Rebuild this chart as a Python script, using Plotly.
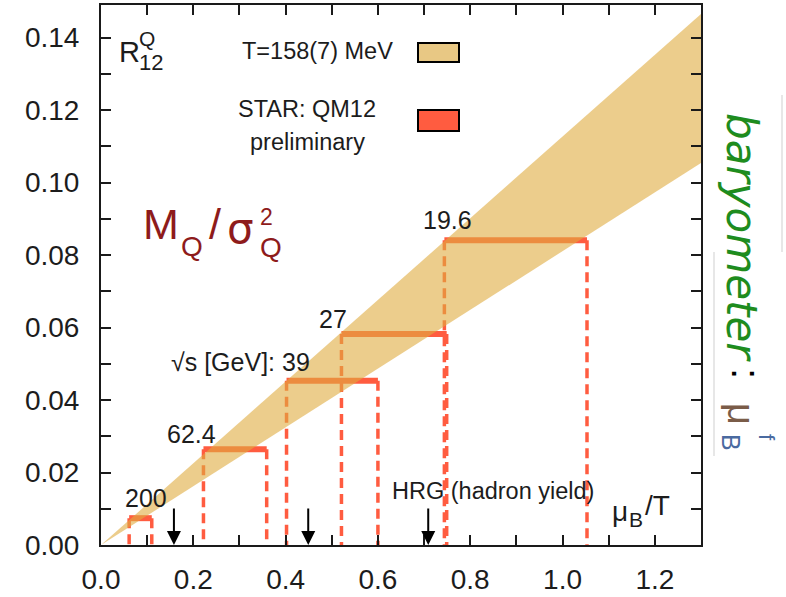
import plotly.graph_objects as go

# ---- figure geometry -------------------------------------------------------
W, H = 786, 597
ML, MR, MT, MB = 101, 85, 5, 52
PW, PH = W - ML - MR, H - MT - MB
X_RANGE = [0.0, 1.3]
Y_RANGE = [0.0, 0.149]

FONT = "Liberation Sans, Arial, Helvetica, sans-serif"
WIDE = "DejaVu Sans, Verdana, sans-serif"
INK = "#1c1c1c"

# ---- data ------------------------------------------------------------------
# HRG band for R12^Q = M_Q/sigma_Q^2 vs mu_B/T, T = 158(7) MeV
band_mu = [0.0, 1.3]
band_upper = [0.0, 0.1465]
band_lower = [0.0, 0.1054]

# STAR QM12 preliminary: measured ratio and the mu_B/T interval it maps onto
energies = ["200", "62.4", "39", "27", "19.6"]
star_r12 = [0.0074, 0.0264, 0.0453, 0.0582, 0.0841]
star_mu_lo = [0.061, 0.222, 0.402, 0.521, 0.744]
star_mu_hi = [0.110, 0.359, 0.600, 0.749, 1.053]

# mu_B/T at chemical freeze-out from hadron-yield fits
hrg_mu = [0.158, 0.449, 0.709]
hrg_arrow_top = 0.0105

# axis ticks
x_tick_vals = [0.0, 0.1, 0.2, 0.3, 0.4, 0.5, 0.6, 0.7, 0.8, 0.9, 1.0, 1.1, 1.2, 1.3]
x_tick_text = ["0.0", "", "0.2", "", "0.4", "", "0.6", "", "0.8", "", "1.0", "", "1.2", ""]
y_tick_vals = [0.00, 0.01, 0.02, 0.03, 0.04, 0.05, 0.06, 0.07, 0.08, 0.09,
               0.10, 0.11, 0.12, 0.13, 0.14]
y_tick_text = ["0.00", "", "0.02", "", "0.04", "", "0.06", "", "0.08", "",
               "0.10", "", "0.12", "", "0.14"]

# ---- styling ---------------------------------------------------------------
STAR_RED = "rgb(255,92,64)"
BAND_FILL = "rgba(223,172,63,0.6)"
# pixel offsets of each energy label from the left end of its bar
label_dx = [17, -12, 25, -8, 3]
label_dy = [20, 15, 19, 15.5, 20.5]
label_anchor = ["center", "center", "right", "center", "center"]
label_prefix = ["", "", "\u221as [GeV]: ", "", ""]


def px(x):
    """page pixel x -> paper x"""
    return (x - ML) / PW


def py(y):
    """page pixel y -> paper y"""
    return (H - MB - y) / PH


fig = go.Figure()

# dashed projections of the STAR bars onto the mu_B/T axis
dash_x, dash_y = [], []
for lo, hi, r in zip(star_mu_lo, star_mu_hi, star_r12):
    for m in (lo, hi):
        dash_x += [m, m, None]
        dash_y += [r, 0.0, None]
fig.add_trace(go.Scatter(x=dash_x, y=dash_y, mode="lines",
                         line=dict(color=STAR_RED, width=3.5, dash="10px,6px"),
                         hoverinfo="skip", showlegend=False))

# STAR bars
bar_x, bar_y = [], []
for lo, hi, r in zip(star_mu_lo, star_mu_hi, star_r12):
    bar_x += [lo, hi, None]
    bar_y += [r, r, None]
fig.add_trace(go.Scatter(x=bar_x, y=bar_y, mode="lines",
                         line=dict(color=STAR_RED, width=6),
                         hoverinfo="skip", showlegend=False))

# HRG band (semi-transparent, on top of the data)
fig.add_trace(go.Scatter(x=band_mu + band_mu[::-1],
                         y=band_upper + band_lower[::-1],
                         mode="lines", fill="toself", fillcolor=BAND_FILL,
                         line=dict(width=0), hoverinfo="skip", showlegend=False))

ann = []

# energy labels
for name, lo, r, dx, dy, anc, pre in zip(energies, star_mu_lo, star_r12,
                                         label_dx, label_dy, label_anchor, label_prefix):
    ann.append(dict(x=lo, y=r, xref="x", yref="y", text=pre + name, showarrow=False,
                    xanchor=anc, yanchor="middle", xshift=dx, yshift=dy,
                    font=dict(family=FONT, size=25, color=INK)))

# freeze-out arrows
for m in hrg_mu:
    ann.append(dict(x=m, y=0.0, ax=m, ay=hrg_arrow_top, xref="x", yref="y",
                    axref="x", ayref="y", showarrow=True, arrowhead=2,
                    arrowsize=1.4, arrowwidth=2, arrowcolor="#000000",
                    standoff=0, startstandoff=0, text=""))


def label(text, x, y, size, color=INK, xanchor="left", angle=0, family=FONT, pad=1):
    ann.append(dict(x=px(x), y=py(y), xref="paper", yref="paper", text=text,
                    showarrow=False, xanchor=xanchor, yanchor="middle", borderpad=pad,
                    textangle=angle, font=dict(family=family, size=size, color=color)))


# HRG label and axis title
label("HRG (hadron yield)", 390, 491, 23.5)
label("\u03bc", 610, 511, 28)
label("B", 627, 519, 21)
label("/T", 643, 505, 28)

# R12^Q
label("R", 117, 52.5, 29)
label("Q", 138, 38.5, 21, pad=0)
label("12", 138, 63, 22, pad=0)

# M_Q / sigma_Q^2
DARKRED = "#8e1b1b"
label("M", 141, 224, 43, DARKRED)
label("Q", 179, 246, 28, DARKRED)
label("/", 207, 224, 43, DARKRED)
label("\u03c3", 225, 228, 42, DARKRED, family=WIDE)
label("2", 258, 216.5, 23, DARKRED)
label("Q", 258, 247, 28, DARKRED)

# legend text
label("T=158(7) MeV", 317, 51, 23.5, xanchor="center")
label("STAR: QM12", 307, 109, 23.5, xanchor="center")
label("preliminary", 307, 142, 23.5, xanchor="center")

# vertical caption on the right
label("<i>baryometer</i>", 741, 237, 42, "#1e8c1e", xanchor="center", angle=90, family=WIDE)
label(":", 746, 373, 40, "#000000", xanchor="center", angle=90)
label("\u03bc", 741, 414, 38, "#7a5c48", xanchor="center", angle=90)
label("B", 731, 442, 25, "#4a6aa0", xanchor="center", angle=90)
label("f", 767, 437, 22, "#4a6aa0", xanchor="center", angle=90)

shapes = [
    # legend swatches
    dict(type="rect", xref="paper", yref="paper", x0=px(418), x1=px(459),
         y0=py(62), y1=py(43), fillcolor="#e8c884", line=dict(color="#000000", width=2)),
    dict(type="rect", xref="paper", yref="paper", x0=px(418), x1=px(459),
         y0=py(131), y1=py(110), fillcolor=STAR_RED, line=dict(color="#000000", width=2)),
    # faint frame lines around the caption
    dict(type="line", xref="paper", yref="paper", x0=px(782), x1=px(782),
         y0=py(95), y1=py(252), line=dict(color="#cfcfcf", width=1)),
    dict(type="line", xref="paper", yref="paper", x0=px(714), x1=px(714),
         y0=py(252), y1=py(456), line=dict(color="#cfcfcf", width=1)),
]

axis_common = dict(showline=True, linecolor="#1a1a1a", linewidth=2, mirror="allticks",
                   ticks="inside", ticklen=10, tickwidth=1.5, tickcolor="#1a1a1a",
                   showgrid=False, zeroline=False, automargin=False,
                   tickfont=dict(family=FONT, size=28, color=INK))

fig.update_layout(
    width=W, height=H,
    margin=dict(l=ML, r=MR, t=MT, b=MB),
    paper_bgcolor="#ffffff", plot_bgcolor="#ffffff",
    xaxis=dict(range=X_RANGE, tickvals=x_tick_vals, ticktext=x_tick_text,
               ticklabelstandoff=8, **axis_common),
    yaxis=dict(range=Y_RANGE, tickvals=y_tick_vals, ticktext=y_tick_text,
               ticklabelstandoff=14, **axis_common),
    annotations=ann, shapes=shapes, showlegend=False,
)

fig.write_html("out.html")
